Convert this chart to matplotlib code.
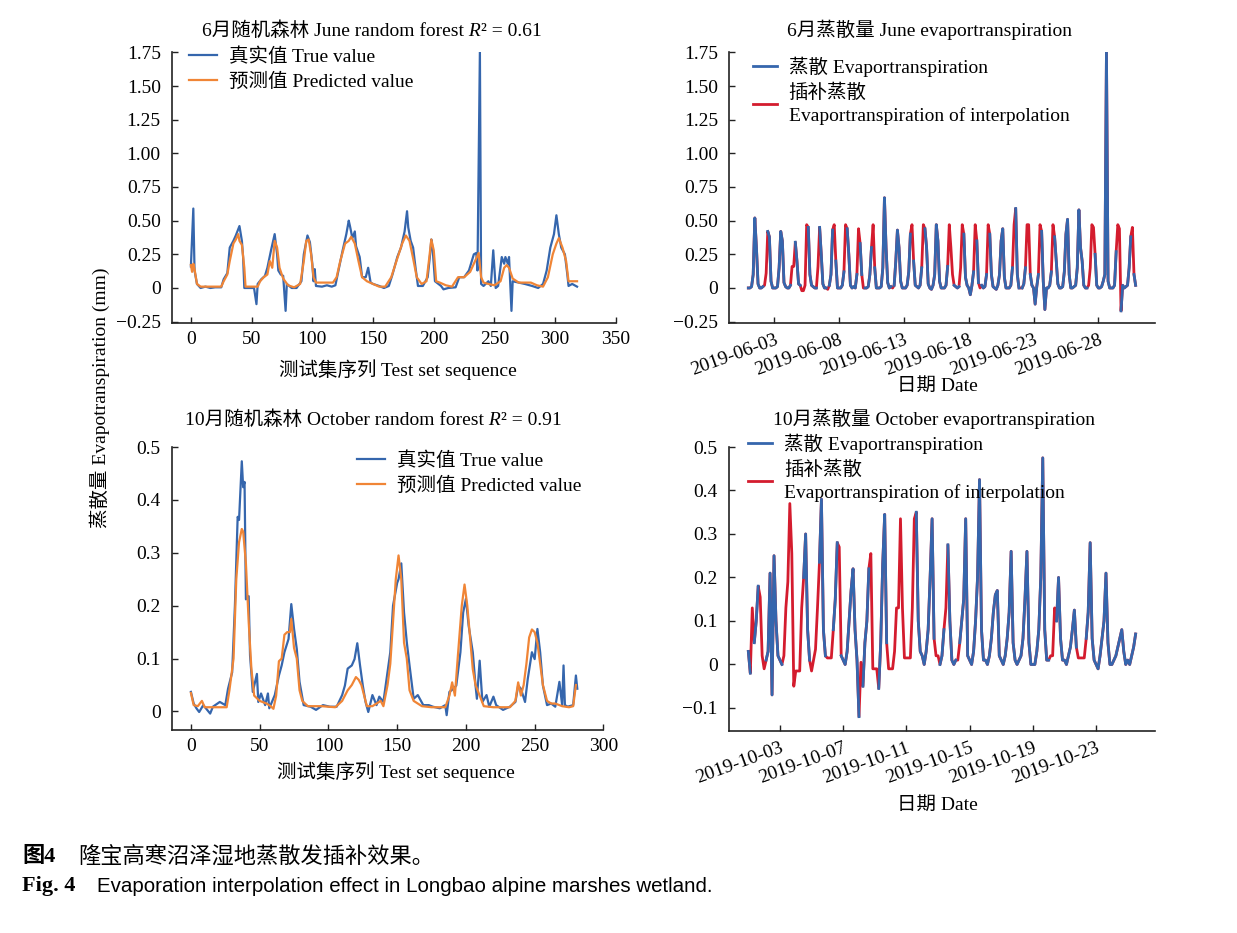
import numpy as np
import pandas as pd
import matplotlib
matplotlib.use('Agg')
import matplotlib.pyplot as plt
import matplotlib.dates as mdates
from matplotlib.ticker import FuncFormatter, MultipleLocator
from matplotlib.offsetbox import TextArea, HPacker, AnchoredOffsetbox

FAM = ['Liberation Serif', 'Noto Sans CJK SC']
plt.rcParams['font.family'] = FAM
plt.rcParams['font.size'] = 14
plt.rcParams['axes.unicode_minus'] = True

BLUE = '#3566ad'
ORANGE = '#f08536'
RED = '#d41c2e'

# ---- June random forest test set (index, value) ----
tl_true_idx = [0, 2, 3, 5, 8, 12, 16, 20, 25, 27, 30, 32, 35, 37, 40, 42, 43, 44, 48, 52,
               54, 55, 58, 61, 63, 66, 69, 71, 72, 74, 76, 78, 79, 83, 87, 91, 93, 96, 98, 100,
               101, 102, 103, 108, 112, 116, 119, 122, 125, 128, 130, 131, 133, 135, 136, 139, 141, 144, 146, 148,
               150, 155, 159, 163, 166, 170, 173, 176, 178, 179, 181, 183, 185, 187, 191, 195, 197, 198, 199, 201,
               206, 208, 212, 218, 221, 225, 229, 233, 235, 236, 238, 239, 241, 245, 247, 249, 251, 253, 256, 258,
               259, 261, 262, 264, 265, 270, 275, 281, 286, 290, 293, 296, 299, 301, 303, 305, 308, 310, 311, 314,
               318]
tl_true_val = [0.16, 0.59, 0.13, 0.03, 0.00, 0.01, 0.00, 0.005, 0.005, 0.065, 0.11, 0.30, 0.35, 0.39, 0.46, 0.35, 0.23, 0.00, 0.00, 0.00,
               -0.12, 0.03, 0.065, 0.09, 0.15, 0.28, 0.40, 0.25, 0.13, 0.10, 0.09, -0.17, 0.03, 0.00, 0.00, 0.05, 0.25, 0.39, 0.34, 0.18,
               0.05, 0.14, 0.015, 0.01, 0.02, 0.01, 0.02, 0.15, 0.28, 0.40, 0.50, 0.46, 0.37, 0.42, 0.31, 0.23, 0.08, 0.08, 0.15, 0.04,
               0.03, 0.015, 0.00, 0.015, 0.10, 0.23, 0.30, 0.42, 0.57, 0.45, 0.35, 0.30, 0.15, 0.015, 0.015, 0.08, 0.25, 0.36, 0.30, 0.05,
               0.015, -0.01, 0.00, 0.005, 0.08, 0.08, 0.13, 0.25, 0.26, 0.13, 1.76, 0.03, 0.015, 0.05, 0.015, 0.28, 0.00, 0.015, 0.23, 0.18,
               0.23, 0.18, 0.23, -0.17, 0.05, 0.04, 0.03, 0.015, 0.00, 0.03, 0.13, 0.30, 0.40, 0.54, 0.40, 0.30, 0.25, 0.10, 0.015, 0.03,
               0.01]
tl_pred_idx = [0, 1, 2, 3, 5, 8, 25, 27, 30, 32, 35, 37, 39, 40, 42, 44, 45, 55, 57, 60,
               63, 65, 67, 69, 71, 73, 76, 80, 85, 90, 93, 95, 97, 99, 101, 103, 117, 120, 123, 127,
               130, 132, 135, 138, 141, 145, 150, 155, 160, 165, 170, 174, 177, 180, 183, 186, 190, 194, 196, 198,
               200, 202, 205, 210, 215, 220, 225, 230, 234, 237, 239, 241, 245, 250, 255, 258, 260, 262, 265, 270,
               280, 285, 290, 294, 298, 301, 303, 306, 309, 311, 315, 318]
tl_pred_val = [0.17, 0.12, 0.18, 0.14, 0.03, 0.01, 0.01, 0.05, 0.10, 0.20, 0.33, 0.36, 0.40, 0.35, 0.32, 0.15, 0.01, 0.01, 0.05, 0.08,
               0.10, 0.20, 0.15, 0.35, 0.30, 0.15, 0.07, 0.02, 0.005, 0.03, 0.20, 0.35, 0.36, 0.25, 0.08, 0.04, 0.04, 0.08, 0.20, 0.33,
               0.35, 0.38, 0.33, 0.20, 0.08, 0.05, 0.03, 0.01, 0.01, 0.08, 0.22, 0.33, 0.39, 0.35, 0.22, 0.08, 0.03, 0.05, 0.20, 0.36,
               0.28, 0.05, 0.04, 0.02, 0.01, 0.08, 0.08, 0.12, 0.20, 0.26, 0.08, 0.04, 0.03, 0.02, 0.05, 0.15, 0.17, 0.15, 0.07, 0.04,
               0.04, 0.02, 0.01, 0.08, 0.25, 0.33, 0.37, 0.30, 0.20, 0.05, 0.05, 0.05]

# ---- October random forest test set (index, value) ----
bl_true_idx = [0, 2, 4, 6, 9, 14, 16, 21, 25, 27, 30, 32, 34, 35, 37, 38, 39, 40, 42, 43,
               45, 48, 49, 51, 54, 56, 57, 61, 64, 66, 68, 71, 73, 75, 77, 79, 82, 87, 91, 96,
               101, 106, 110, 112, 114, 117, 119, 121, 123, 125, 127, 129, 132, 135, 137, 140, 142, 145, 147, 150,
               151, 153, 155, 157, 159, 162, 165, 169, 173, 176, 181, 185, 186, 188, 191, 193, 196, 198, 200, 202,
               205, 207, 208, 210, 212, 215, 217, 220, 222, 227, 232, 236, 238, 240, 243, 245, 248, 250, 252, 254,
               256, 259, 262, 265, 268, 270, 271, 272, 274, 278, 280, 281]
bl_true_val = [0.037, 0.015, 0.006, -0.001, 0.012, -0.004, 0.009, 0.018, 0.012, 0.043, 0.074, 0.20, 0.368, 0.362, 0.473, 0.424, 0.434, 0.212, 0.218, 0.106,
               0.037, 0.071, 0.018, 0.034, 0.012, 0.034, 0.006, 0.031, 0.068, 0.087, 0.112, 0.137, 0.203, 0.156, 0.118, 0.056, 0.012, 0.009, 0.003, 0.012,
               0.009, 0.009, 0.031, 0.049, 0.081, 0.087, 0.099, 0.129, 0.087, 0.049, 0.018, -0.001, 0.031, 0.012, 0.028, 0.018, 0.056, 0.112, 0.20, 0.243,
               0.25, 0.28, 0.187, 0.131, 0.087, 0.024, 0.031, 0.012, 0.012, 0.009, 0.006, 0.012, -0.007, 0.037, 0.043, 0.049, 0.112, 0.187, 0.213, 0.162,
               0.112, 0.049, 0.024, 0.096, 0.018, 0.031, 0.009, 0.028, 0.012, 0.003, 0.009, 0.018, 0.049, 0.043, 0.018, 0.062, 0.112, 0.099, 0.156, 0.112,
               0.049, 0.012, 0.015, 0.009, 0.056, 0.012, 0.087, 0.012, 0.009, 0.012, 0.068, 0.043]
bl_pred_idx = [0, 2, 5, 8, 10, 20, 26, 28, 31, 33, 35, 37, 38, 40, 42, 44, 46, 50, 55, 58,
               60, 62, 64, 66, 68, 70, 72, 73, 75, 77, 79, 81, 85, 95, 105, 110, 114, 117, 120, 122,
               124, 126, 128, 132, 138, 140, 143, 145, 147, 149, 151, 153, 155, 157, 159, 162, 168, 175, 185, 188,
               190, 192, 194, 197, 199, 201, 203, 205, 207, 210, 213, 220, 232, 236, 238, 240, 242, 244, 246, 248,
               250, 252, 254, 256, 259, 262, 265, 270, 275, 278, 280]
bl_pred_val = [0.035, 0.012, 0.01, 0.02, 0.008, 0.008, 0.008, 0.04, 0.10, 0.25, 0.32, 0.345, 0.34, 0.28, 0.17, 0.08, 0.03, 0.02, 0.015, 0.01,
               0.005, 0.03, 0.095, 0.10, 0.145, 0.15, 0.15, 0.175, 0.12, 0.10, 0.04, 0.02, 0.01, 0.01, 0.008, 0.02, 0.04, 0.05, 0.065, 0.06,
               0.05, 0.03, 0.01, 0.01, 0.02, 0.01, 0.05, 0.09, 0.17, 0.25, 0.295, 0.25, 0.13, 0.10, 0.04, 0.02, 0.01, 0.008, 0.008, 0.03,
               0.055, 0.03, 0.10, 0.20, 0.24, 0.20, 0.14, 0.08, 0.05, 0.03, 0.01, 0.008, 0.008, 0.02, 0.055, 0.03, 0.05, 0.09, 0.14, 0.155,
               0.15, 0.13, 0.09, 0.05, 0.02, 0.015, 0.015, 0.01, 0.008, 0.01, 0.05]

# ---- June evapotranspiration, 3-hourly (00,03,...,21h), one row per day ----
june_days = [
    [0.00, 0.00, 0.01, 0.10, 0.52, 0.30, 0.03, 0.00],
    [0.00, 0.01, 0.02, 0.11, 0.42, 0.38, 0.05, 0.00],
    [0.00, 0.00, 0.01, 0.15, 0.42, 0.35, 0.04, 0.01],
    [0.00, 0.00, 0.02, 0.16, 0.16, 0.34, 0.20, 0.03],
    [0.02, -0.02, -0.02, 0.02, 0.47, 0.45, 0.10, 0.02],
    [0.01, 0.00, 0.00, 0.16, 0.45, 0.25, 0.03, 0.00],
    [0.00, -0.01, 0.02, 0.10, 0.43, 0.47, 0.20, 0.00],
    [0.00, 0.00, 0.02, 0.12, 0.47, 0.44, 0.25, 0.02],
    [0.00, 0.01, 0.00, 0.10, 0.44, 0.33, 0.10, 0.00],
    [0.00, 0.00, 0.01, 0.10, 0.30, 0.47, 0.15, 0.00],
    [0.00, 0.00, 0.01, 0.15, 0.67, 0.30, 0.04, 0.00],
    [0.01, 0.00, 0.02, 0.20, 0.43, 0.30, 0.05, 0.00],
    [0.00, 0.00, 0.02, 0.12, 0.40, 0.47, 0.20, 0.02],
    [0.01, 0.00, 0.02, 0.15, 0.47, 0.44, 0.30, 0.03],
    [0.00, -0.01, 0.02, 0.10, 0.47, 0.35, 0.05, 0.00],
    [0.00, 0.00, 0.02, 0.16, 0.47, 0.30, 0.10, 0.02],
    [0.01, 0.00, 0.01, 0.15, 0.47, 0.40, 0.08, 0.02],
    [0.00, -0.05, 0.02, 0.12, 0.47, 0.35, 0.04, 0.00],
    [0.02, 0.00, 0.01, 0.10, 0.47, 0.40, 0.10, 0.01],
    [0.00, -0.01, 0.02, 0.10, 0.35, 0.44, 0.08, 0.00],
    [0.00, 0.00, 0.02, 0.15, 0.47, 0.59, 0.10, 0.00],
    [0.00, 0.00, 0.03, 0.15, 0.47, 0.47, 0.10, 0.02],
    [0.00, -0.12, 0.01, 0.10, 0.47, 0.42, 0.05, -0.16],
    [0.00, 0.00, 0.02, 0.12, 0.47, 0.38, 0.20, 0.03],
    [0.00, 0.00, 0.01, 0.12, 0.40, 0.51, 0.10, 0.00],
    [0.00, 0.01, 0.02, 0.15, 0.58, 0.30, 0.20, 0.02],
    [0.00, 0.00, 0.02, 0.15, 0.47, 0.45, 0.25, 0.02],
    [0.00, 0.00, 0.01, 0.05, 0.10, 1.76, 0.05, 0.00],
    [0.00, 0.00, 0.02, 0.27, 0.47, 0.44, -0.17, 0.02],
    [0.00, 0.01, 0.02, 0.15, 0.38, 0.45, 0.10, 0.02],
]
# slots of each day that were missing and filled by interpolation
june_gaps = [[], [2, 3], [], [3, 4], [1, 2, 4], [3], [1, 5], [4], [4, 7], [5],
             [], [1], [5], [4], [], [4, 6], [3, 4], [4, 7], [4], [],
             [4], [0, 4, 5], [4], [4], [], [], [2, 4, 5], [], [4, 5], [5]]

# ---- October evapotranspiration, 3-hourly ----
oct_days = [
    [0.03, -0.02, 0.13, 0.05, 0.10, 0.18, 0.155, 0.02],
    [-0.01, 0.01, 0.03, 0.21, -0.07, 0.25, 0.10, 0.02],
    [0.01, 0.00, 0.02, 0.13, 0.19, 0.37, 0.255, -0.05],
    [-0.015, -0.015, -0.015, 0.13, 0.20, 0.30, 0.08, 0.01],
    [-0.015, 0.01, 0.035, 0.13, 0.235, 0.38, 0.08, 0.02],
    [0.015, 0.015, 0.015, 0.08, 0.15, 0.28, 0.27, 0.02],
    [0.01, 0.00, 0.03, 0.10, 0.17, 0.22, 0.08, 0.01],
    [-0.12, 0.005, -0.05, 0.05, 0.10, 0.22, 0.255, -0.01],
    [-0.01, -0.01, -0.055, 0.05, 0.23, 0.345, 0.05, -0.01],
    [-0.01, -0.01, 0.03, 0.13, 0.13, 0.335, 0.13, 0.015],
    [0.015, 0.015, 0.015, 0.13, 0.335, 0.35, 0.10, 0.03],
    [0.02, 0.00, 0.03, 0.08, 0.20, 0.335, 0.06, 0.02],
    [0.02, 0.00, 0.02, 0.08, 0.13, 0.275, 0.10, 0.01],
    [0.00, 0.01, 0.01, 0.05, 0.10, 0.15, 0.335, 0.02],
    [0.01, 0.00, 0.03, 0.10, 0.20, 0.425, 0.08, 0.01],
    [0.01, 0.00, 0.02, 0.06, 0.12, 0.16, 0.17, 0.02],
    [0.01, 0.00, 0.02, 0.06, 0.12, 0.26, 0.05, 0.01],
    [0.00, 0.01, 0.02, 0.06, 0.15, 0.26, 0.05, 0.00],
    [0.00, 0.00, 0.03, 0.08, 0.20, 0.475, 0.08, 0.01],
    [0.01, 0.02, 0.02, 0.13, 0.10, 0.20, 0.06, 0.01],
    [0.01, 0.00, 0.02, 0.04, 0.08, 0.125, 0.04, 0.015],
    [0.015, 0.015, 0.015, 0.06, 0.12, 0.28, 0.06, 0.01],
    [0.00, -0.01, 0.02, 0.06, 0.10, 0.21, 0.05, 0.00],
    [0.00, 0.01, 0.02, 0.04, 0.06, 0.08, 0.03, 0.00],
    [0.01, 0.00, 0.02, 0.04, 0.07],
]
oct_gaps = [[2, 6], [0], [2, 3, 5, 6], [0, 1, 2, 3], [0, 2, 3], [0, 1, 2, 6], [], [1, 6, 7],
            [0, 1, 7], [0, 1, 3, 4, 5, 6, 7], [0, 1, 2, 3, 4], [7], [0, 4], [2], [], [],
            [], [], [], [1, 2, 3], [7], [0, 1, 2], [], [], []]


def build_series(days, gaps, start):
    full = np.concatenate([np.array(d, dtype=float) for d in days])
    obs = full.copy()
    pos = 0
    for d, slots in zip(days, gaps):
        for s in slots:
            obs[pos + s] = np.nan
        pos += len(d)
    t = pd.date_range(start, periods=len(full), freq='3h')
    return t, full, obs


def fmt_y(v, p):
    if abs(v) < 1e-9:
        return '0'
    return f'{v:.2f}'.replace('-', '\u2212')


def fmt_y1(v, p):
    if abs(v) < 1e-9:
        return '0'
    return f'{v:.1f}'.replace('-', '\u2212')


def style_axes(ax):
    ax.spines[['top', 'right']].set_visible(False)
    for s in ('left', 'bottom'):
        ax.spines[s].set_linewidth(1.2)
        ax.spines[s].set_color('#222222')
    ax.tick_params(direction='in', length=4, width=1, labelsize=14, color='#222222')
    ax.tick_params(axis='y', pad=8)
    ax.tick_params(axis='x', pad=6)


def panel_title(ax, pieces, x, y):
    areas = []
    for s, ital in pieces:
        if ital:
            tp = dict(family='Liberation Serif', style='italic', fontsize=14)
        else:
            tp = dict(family=FAM, fontsize=14)
        areas.append(TextArea(s, textprops=tp))
    box = HPacker(children=areas, align='baseline', pad=0, sep=0)
    ab = AnchoredOffsetbox(loc='lower center', child=box, pad=0, borderpad=0, frameon=False,
                           bbox_to_anchor=(x, y), bbox_transform=ax.transAxes)
    ax.add_artist(ab)


def add_legend(ax, handles, labels, x, y, hl):
    leg = ax.legend(handles, labels, loc='upper left', bbox_to_anchor=(x, y), frameon=False,
                    borderpad=0, borderaxespad=0, handlelength=hl, handletextpad=0.6,
                    labelspacing=0.35, fontsize=14)
    for txt in leg.get_texts():
        txt.set_linespacing(1.35)
    return leg


fig = plt.figure(figsize=(12.37, 9.33), dpi=100)
ax1 = fig.add_axes([0.1390, 0.6541, 0.3589, 0.2898])
ax2 = fig.add_axes([0.5893, 0.6541, 0.3444, 0.2898])
ax3 = fig.add_axes([0.1390, 0.2176, 0.3488, 0.3033])
ax4 = fig.add_axes([0.5893, 0.2165, 0.3444, 0.3044])

# top left
l1, = ax1.plot(tl_true_idx, tl_true_val, color=BLUE, lw=1.6)
l2, = ax1.plot(tl_pred_idx, tl_pred_val, color=ORANGE, lw=1.6)
ax1.set_xlim(-15.6, 350)
ax1.set_ylim(-0.258, 1.75)
ax1.xaxis.set_major_locator(MultipleLocator(50))
ax1.yaxis.set_major_locator(MultipleLocator(0.25))
ax1.yaxis.set_major_formatter(FuncFormatter(fmt_y))
style_axes(ax1)
add_legend(ax1, [l1, l2], ['真实值 True value', '预测值 Predicted value'], 0.039, 1.019, 1.45)
panel_title(ax1, [('6月随机森林 June random forest', False), (' R', True), ('² = 0.61', False)], 0.45, 1.045)
ax1.set_xlabel('测试集序列 Test set sequence', fontsize=14)
ax1.xaxis.label.set_va('center')
ax1.xaxis.set_label_coords(0.51, -0.175)

# top right
t, full, obs = build_series(june_days, june_gaps, '2019-06-01')
lr, = ax2.plot(t, full, color=RED, lw=2.0)
lb, = ax2.plot(t, obs, color=BLUE, lw=2.0)
ax2.set_ylim(-0.258, 1.75)
ax2.yaxis.set_major_locator(MultipleLocator(0.25))
ax2.yaxis.set_major_formatter(FuncFormatter(fmt_y))
ax2.xaxis.set_major_locator(mdates.DayLocator(bymonthday=[3, 8, 13, 18, 23, 28]))
ax2.xaxis.set_major_formatter(mdates.DateFormatter('%Y-%m-%d'))
style_axes(ax2)
plt.setp(ax2.get_xticklabels(), rotation=20, ha='right', va='top', rotation_mode='anchor')
add_legend(ax2, [lb, lr], ['蒸散 Evaportranspiration', '插补蒸散\nEvaportranspiration of interpolation'],
           0.056, 0.983, 1.25)
panel_title(ax2, [('6月蒸散量 June evaportranspiration', False)], 0.47, 1.045)
ax2.set_xlabel('日期 Date', fontsize=14)
ax2.xaxis.label.set_va('center')
ax2.xaxis.set_label_coords(0.49, -0.237)

# bottom left
l1, = ax3.plot(bl_true_idx, bl_true_val, color=BLUE, lw=1.6)
l2, = ax3.plot(bl_pred_idx, bl_pred_val, color=ORANGE, lw=1.6)
ax3.set_xlim(-13.8, 300)
ax3.set_ylim(-0.035, 0.5)
ax3.xaxis.set_major_locator(MultipleLocator(50))
ax3.yaxis.set_major_locator(MultipleLocator(0.1))
ax3.yaxis.set_major_formatter(FuncFormatter(fmt_y1))
style_axes(ax3)
add_legend(ax3, [l1, l2], ['真实值 True value', '预测值 Predicted value'], 0.429, 0.985, 1.45)
panel_title(ax3, [('10月随机森林 October random forest', False), (' R', True), ('² = 0.91', False)], 0.466, 1.064)
ax3.set_xlabel('测试集序列 Test set sequence', fontsize=14)
ax3.xaxis.label.set_va('center')
ax3.xaxis.set_label_coords(0.52, -0.147)

# bottom right
t, full, obs = build_series(oct_days, oct_gaps, '2019-10-01')
lr, = ax4.plot(t, full, color=RED, lw=2.0)
lb, = ax4.plot(t, obs, color=BLUE, lw=2.0)
ax4.set_ylim(-0.153, 0.5)
ax4.yaxis.set_major_locator(MultipleLocator(0.1))
ax4.yaxis.set_major_formatter(FuncFormatter(fmt_y1))
ax4.xaxis.set_major_locator(mdates.DayLocator(bymonthday=[3, 7, 11, 15, 19, 23]))
ax4.xaxis.set_major_formatter(mdates.DateFormatter('%Y-%m-%d'))
style_axes(ax4)
plt.setp(ax4.get_xticklabels(), rotation=20, ha='right', va='top', rotation_mode='anchor')
add_legend(ax4, [lb, lr], ['蒸散 Evaportranspiration', '插补蒸散\nEvaportranspiration of interpolation'],
           0.045, 1.046, 1.25)
panel_title(ax4, [('10月蒸散量 October evaportranspiration', False)], 0.481, 1.063)
ax4.set_xlabel('日期 Date', fontsize=14)
ax4.xaxis.label.set_va('center')
ax4.xaxis.set_label_coords(0.49, -0.261)

fig.text(100 / 1237, 1 - 398 / 933, '蒸散量 Evapotranspiration (mm)', rotation=90,
         ha='center', va='center', fontsize=14)

# caption
fig.text(22 / 1237, 1 - 857 / 933, '图4', weight='bold', va='center', fontsize=16)
fig.text(78 / 1237, 1 - 857 / 933, '隆宝高寒沼泽湿地蒸散发插补效果。', va='center', fontsize=16)
fig.text(22 / 1237, 1 - 886 / 933, 'Fig. 4', weight='bold', va='center', fontsize=16,
         family='Liberation Serif')
fig.text(97 / 1237, 1 - 886 / 933, 'Evaporation interpolation effect in Longbao alpine marshes wetland.',
         va='center', fontsize=14.8, family=['Liberation Sans Narrow', 'Liberation Sans'])

fig.savefig('out.png', dpi=100)
